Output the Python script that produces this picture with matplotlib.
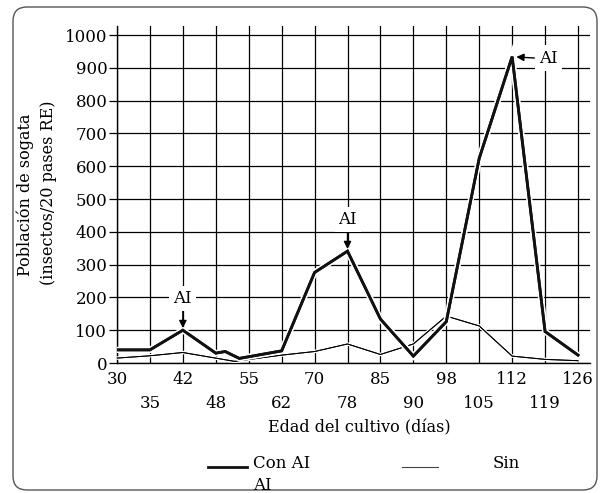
import numpy as np
import matplotlib
matplotlib.use("Agg")
import matplotlib.pyplot as plt
from matplotlib.patches import FancyBboxPatch
from matplotlib.lines import Line2D
import matplotlib.patheffects as pe

# Crop age (days) shown on the categorical x axis
tick_days = [30, 35, 42, 48, 55, 62, 70, 78, 85, 90, 98, 105, 112, 119, 126]

# Planthopper counts with insecticide applications
con_days = [30, 35, 42, 48, 50, 53, 62, 70, 78, 85, 90, 98, 105, 112, 119, 126]
con_vals = [40, 40, 100, 30, 35, 14, 37, 276, 341, 134, 21, 126, 624, 934, 96, 24]

# Planthopper counts without applications
sin_days = [30, 35, 42, 52, 62, 70, 78, 85, 90, 98, 105, 112, 119, 126]
sin_vals = [15, 22, 32, 5, 24, 35, 58, 26, 58, 143, 113, 21, 11, 7]

# Applications marked on the curve
ai_days = [42, 78, 112]
ai_vals = [100, 341, 934]

y_ticks = list(range(0, 1001, 100))

SERIF = ["DejaVu Serif"]
plt.rcParams["font.family"] = SERIF

idx = np.arange(len(tick_days))


def to_pos(days):
    return np.interp(days, tick_days, idx)


fig = plt.figure(figsize=(6.02, 4.93), dpi=100)
W, H = 602, 493
left, right, top, bottom = 117, 590, 26, 363
ax = fig.add_axes([left / W, 1 - bottom / H, (right - left) / W, (bottom - top) / H])

xmax = 14 + (right - 578) / ((578 - 117) / 14)
ax.set_xlim(0, xmax)
ax.set_ylim(0, (363 - 26) / 0.328)

for s in ("top", "right"):
    ax.spines[s].set_visible(False)
for s in ("left", "bottom"):
    ax.spines[s].set_linewidth(1.0)
    ax.spines[s].set_color("black")

ax.set_yticks(y_ticks)
ax.set_yticklabels([str(v) for v in y_ticks], fontsize=12)
ax.tick_params(axis="y", length=6, width=0.9, pad=1, color="black")

ax.set_xticks(idx[::2])
ax.set_xticklabels([str(d) for d in tick_days[::2]], fontsize=12)
ax.set_xticks(idx[1::2], minor=True)
ax.set_xticklabels([str(d) for d in tick_days[1::2]], fontsize=12, minor=True)
ax.tick_params(axis="x", which="major", length=0, pad=5.5)
ax.tick_params(axis="x", which="minor", length=0, pad=23)

ax.grid(True, axis="y", color="black", lw=0.9)
ax.grid(True, axis="x", which="both", color="black", lw=0.9)
ax.set_axisbelow(True)

halo = [pe.withStroke(linewidth=4.5, foreground="white"), pe.Normal()]
halo_thin = [pe.withStroke(linewidth=2.5, foreground="white"), pe.Normal()]
ax.plot(to_pos(sin_days), sin_vals, color="black", lw=0.7, path_effects=halo_thin,
        solid_joinstyle="miter", zorder=3)
ax.plot(to_pos(con_days), con_vals, color="#111111", lw=2.0, path_effects=halo,
        solid_joinstyle="miter", zorder=4)

# Application markers
box = dict(boxstyle="square,pad=0.25", fc="white", ec="none")
arrow = dict(arrowstyle="-|>", color="black", lw=1.0, mutation_scale=11,
             shrinkA=0, shrinkB=1.5)
for d, v in zip(ai_days[:2], ai_vals[:2]):
    x = to_pos(d)
    ax.annotate("", xy=(x, v), xytext=(0, 15), textcoords="offset points",
                arrowprops=arrow, zorder=5)
    ax.annotate("AI", xy=(x, v), xytext=(0, 23), textcoords="offset points",
                ha="center", va="center", fontsize=12, bbox=box, zorder=5)
x = to_pos(ai_days[2])
ax.annotate("", xy=(x, ai_vals[2]), xytext=(16, -1), textcoords="offset points",
            arrowprops=dict(arrow, shrinkB=3), zorder=5)
ax.annotate("AI", xy=(x, ai_vals[2]), xytext=(26, -1), textcoords="offset points",
            ha="center", va="center", fontsize=12, bbox=box, zorder=5)

# Axis titles
fig.text(359 / W, 1 - 428 / H, "Edad del cultivo (días)", ha="center", va="center",
         fontsize=11.5)
fig.text(25 / W, 1 - 195 / H, "Población de sogata", ha="center", va="center",
         rotation=90, fontsize=11.5)
fig.text(49 / W, 1 - 193 / H, "(insectos/20 pases RE)", ha="center", va="center",
         rotation=90, fontsize=11.5)

# Key
fig.add_artist(Line2D([208 / W, 247 / W], [1 - 467 / H] * 2, color="#111111", lw=2.0,
                      transform=fig.transFigure))
fig.text(253 / W, 1 - 464 / H, "Con AI", ha="left", va="center", fontsize=12)
fig.text(253 / W, 1 - 485 / H, "AI", ha="left", va="center", fontsize=12)
fig.add_artist(Line2D([402 / W, 438 / W], [1 - 467 / H] * 2, color="#444444", lw=0.8,
                      transform=fig.transFigure))
fig.text(493 / W, 1 - 464 / H, "Sin", ha="left", va="center", fontsize=12)

# Rounded frame around the figure
frame = FancyBboxPatch((0.13, 0.03), 5.84, 4.83,
                       boxstyle="round,pad=0,rounding_size=0.14",
                       transform=fig.dpi_scale_trans, fc="none", ec="#555555", lw=1.0)
fig.add_artist(frame)

fig.savefig("out.png", dpi=100)
